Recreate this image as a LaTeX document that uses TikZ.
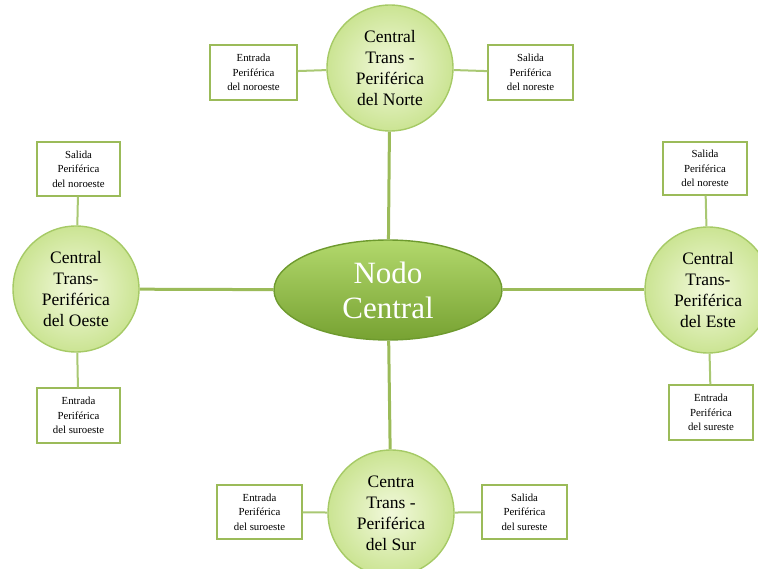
\documentclass[tikz,border=0pt]{standalone}
\usepackage{fontspec}
\setmainfont{Liberation Serif}
\usetikzlibrary{shapes.geometric}
\definecolor{mainln}{HTML}{9BBB59}
\definecolor{periln}{HTML}{A9C873}
\definecolor{circbd}{HTML}{A6CA66}
\definecolor{circin}{HTML}{F2F9DC}
\definecolor{circout}{HTML}{CBE493}
\definecolor{boxbd}{HTML}{9BBB59}
\definecolor{elltop}{HTML}{B2D86C}
\definecolor{ellbot}{HTML}{77A232}
\definecolor{ellbd}{HTML}{6E9A2E}
\begin{document}
\begin{tikzpicture}[x=1pt,y=-1pt,
  hub/.style={circle, minimum size=126pt, inner sep=0pt, draw=circbd, line width=1.4pt,
    inner color=circin, outer color=circout, align=center,
    font=\fontsize{17.5}{21}\selectfont},
  pbox/.style={rectangle, draw=boxbd, line width=1.2pt, fill=white, inner sep=0pt,
    minimum width=85pt, minimum height=54pt, align=center,
    font=\fontsize{10.8}{14.5}\selectfont},
  mainlink/.style={draw=mainln, line width=3pt},
  perilink/.style={draw=periln, line width=2pt}]
\useasboundingbox (0,0) rectangle (758,569);
\begin{scope}
\clip (0,0) rectangle (758,569);
% central node
\node[ellipse, minimum width=228pt, minimum height=100pt, inner sep=0pt,
  draw=ellbd, line width=1.4pt, top color=elltop, bottom color=ellbot,
  text=white, align=center, font=\fontsize{31}{35}\selectfont] (C) at (388,290) {Nodo\\Central};
% hubs
\node[hub] (N) at (390,68) {Central\\Trans -\\Periférica\\del Norte};
\node[hub] (W) at (76,289) {Central\\Trans-\\Periférica\\del Oeste};
\node[hub] (E) at (708,290) {Central\\Trans-\\Periférica\\del Este};
\node[hub] (S) at (391,513) {Centra\\Trans -\\Periférica\\del Sur};
% peripheral boxes
\node[pbox, minimum width=87pt, minimum height=55pt] (NL) at (253.5,72.5) {Entrada\\Periférica\\del noroeste};
\node[pbox, minimum height=55pt] (NR) at (530.5,72.5) {Salida\\Periférica\\del noreste};
\node[pbox, minimum width=83pt] (WT) at (78.5,169) {Salida\\Periférica\\del noroeste};
\node[pbox, minimum width=83pt, minimum height=55pt] (WB) at (78.5,415.5) {Entrada\\Periférica\\del suroeste};
\node[pbox, minimum width=84pt, minimum height=53pt] (ET) at (705,168.5) {Salida\\Periférica\\del noreste};
\node[pbox, minimum width=84pt, minimum height=55pt] (EB) at (711,412.5) {Entrada\\Periférica\\del sureste};
\node[pbox] (SL) at (259.5,512) {Entrada\\Periférica\\del suroeste};
\node[pbox] (SR) at (524.5,512) {Salida\\Periférica\\del sureste};
% main links
\draw[mainlink] (C) -- (N);
\draw[mainlink] (C) -- (S);
\draw[mainlink] (C) -- (W);
\draw[mainlink] (C) -- (E);
% peripheral links
\draw[perilink] (NL) -- (N);
\draw[perilink] (NR) -- (N);
\draw[perilink] (WT) -- (W);
\draw[perilink] (WB) -- (W);
\draw[perilink] (ET) -- (E);
\draw[perilink] (EB) -- (E);
\draw[perilink] (SL) -- (S);
\draw[perilink] (SR) -- (S);
\end{scope}
\end{tikzpicture}
\end{document}
